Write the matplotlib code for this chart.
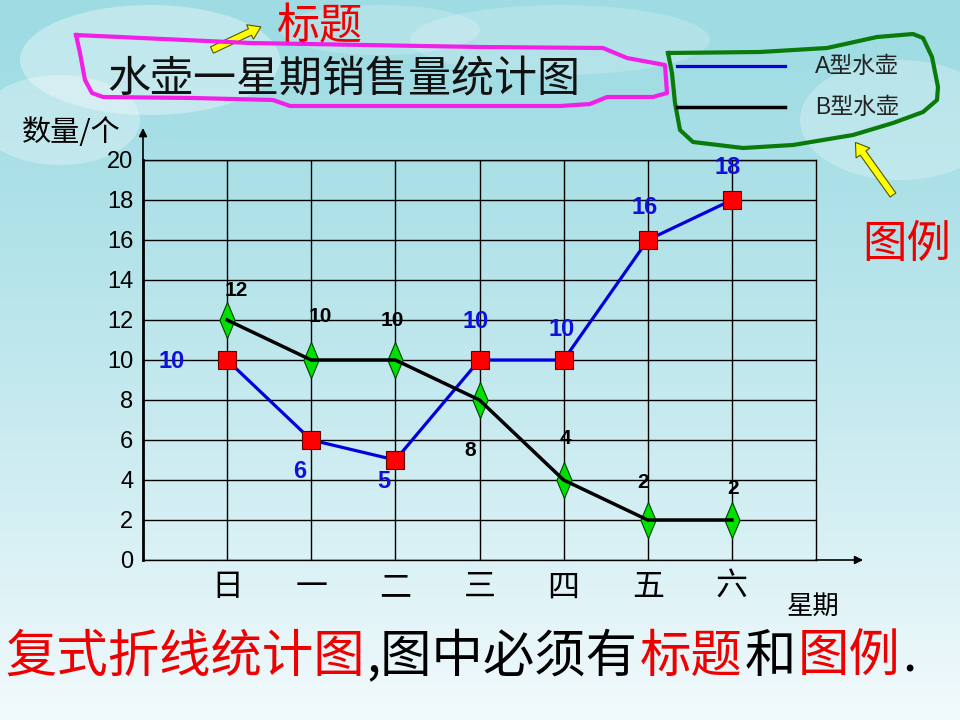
import matplotlib
matplotlib.use("Agg")
import matplotlib.pyplot as plt
import numpy as np
from matplotlib.patches import Ellipse, FancyArrow

plt.rcParams["font.family"] = ["Liberation Sans", "Noto Sans CJK SC", "DejaVu Sans"]
CJK = ["Noto Sans CJK SC", "DejaVu Sans"]

# data
days = ["日", "一", "二", "三", "四", "五", "六"]
kettle_a = [10, 6, 5, 10, 10, 16, 18]
kettle_b = [12, 10, 10, 8, 4, 2, 2]
y_ticks = [0, 2, 4, 6, 8, 10, 12, 14, 16, 18, 20]
series_names = ["A型水壶", "B型水壶"]

# label offsets in pixels (style)
a_offsets = [(-55, -2), (-12, -32), (-12, -22), (-4, 38), (-2, 30), (-3, 32), (-4, 32)]
b_offsets = [(9, 30), (9, 43), (-3, 40), (-9, -50), (2, 42), (-5, 37), (1, 32)]

W, H = 960, 720
fig = plt.figure(figsize=(9.6, 7.2), dpi=100)

# sky background
bg = fig.add_axes([0, 0, 1, 1], zorder=-5)
grad = np.linspace(0, 1, 256).reshape(-1, 1)
top = np.array([0.62, 0.86, 0.89])
bot = np.array([0.95, 0.98, 0.99])
img = top + (bot - top) * grad[..., None] ** 1.3
bg.imshow(img, aspect="auto", extent=[0, W, H, 0])
for cx, cy, w, h, a in [(150, 60, 260, 110, 0.35), (60, 120, 160, 90, 0.3),
                        (560, 40, 300, 70, 0.2), (900, 120, 200, 120, 0.25),
                        (380, 30, 200, 50, 0.2)]:
    bg.add_patch(Ellipse((cx, cy), w, h, color="white", alpha=a, lw=0))
bg.set_xlim(0, W)
bg.set_ylim(H, 0)
bg.axis("off")

# main chart
ax = fig.add_axes([143 / W, 160 / H, 673 / W, 400 / H])
ax.patch.set_alpha(0)
x = np.arange(len(days))

line_a, = ax.plot(x, kettle_a, color="#0000dd", lw=2.3, zorder=3)
ax.plot(x, kettle_a, ls="none", marker="s", ms=13, mfc="#ff0000",
        mec="#600000", mew=0.8, zorder=4)
diamond = [(0, 1), (0.42, 0), (0, -1), (-0.42, 0), (0, 1)]
ax.plot(x, kettle_b, ls="none", marker=diamond, ms=26, mfc="#00e000",
        mec="#004000", mew=0.8, zorder=5)
line_b, = ax.plot(x, kettle_b, color="black", lw=2.5, zorder=6)

for xi, v, off in zip(x, kettle_a, a_offsets):
    ax.annotate(str(v), (xi, v), xytext=off, textcoords="offset pixels",
                ha="center", va="center", fontsize=17, fontweight="bold",
                color="#1010dd", zorder=7)
for xi, v, off in zip(x, kettle_b, b_offsets):
    ax.annotate(str(v), (xi, v), xytext=off, textcoords="offset pixels",
                ha="center", va="center", fontsize=15, fontweight="bold",
                color="black", zorder=7)

ax.set_xlim(-1, 7)
ax.set_ylim(0, 20)
ax.set_yticks(y_ticks)
ax.set_xticks(x)
ax.set_xticklabels(days, family=CJK, fontsize=23)
ax.tick_params(axis="x", length=0, pad=8)
ax.tick_params(axis="y", length=0, pad=7, labelsize=17)
ax.grid(True, color="black", lw=1)
for s in ["top", "right", "bottom"]:
    ax.spines[s].set_linewidth(1)
ax.spines["left"].set_linewidth(2)

# axis arrows
ax.annotate("", xy=(0, 1.08), xytext=(0, 1.0), xycoords="axes fraction",
            arrowprops=dict(arrowstyle="-|>", color="black", lw=1.2,
                            mutation_scale=12, shrinkA=0, shrinkB=0))
ax.annotate("", xy=(1.07, 0), xytext=(1.0, 0), xycoords="axes fraction",
            arrowprops=dict(arrowstyle="-|>", color="black", lw=1.2,
                            mutation_scale=12, shrinkA=0, shrinkB=0))

fig.text(22 / W, 1 - 133 / H, "数量/个", family=CJK, fontsize=21, va="center")
fig.text(787 / W, 1 - 606 / H, "星期", family=CJK, fontsize=19, va="center")

# title and hand-drawn annotations
fig.text(107 / W, 1 - 80 / H, "水壶一星期销售量统计图", family=CJK,
         fontsize=31, va="center", color="#111111")
fig.text(277 / W, 1 - 27 / H, "标题", family=CJK, fontsize=31,
         va="center", color="#ee0000")
fig.text(862 / W, 1 - 244 / H, "图例", family=CJK, fontsize=32,
         va="center", color="#ee0000")

over = fig.add_axes([0, 0, 1, 1], zorder=10)
over.set_xlim(0, W)
over.set_ylim(H, 0)
over.axis("off")
pink_x = [76, 250, 480, 603, 627, 665, 667, 653, 607, 590, 560, 480, 290, 273, 193, 103, 92, 85, 80, 76]
pink_y = [35, 43, 47, 48, 58, 65, 93, 97, 97, 104, 106, 106, 106, 100, 98, 97, 93, 80, 53, 35]
over.plot(pink_x, pink_y, color="#f020e8", lw=3)
green_x = [668, 760, 827, 877, 913, 923, 932, 938, 937, 923, 893, 853, 793, 743, 693, 680, 675, 672, 668]
green_y = [53, 52, 48, 37, 34, 38, 57, 87, 100, 112, 123, 135, 145, 148, 142, 130, 103, 73, 53]
over.plot(green_x, green_y, color="#0a7a0a", lw=3)
over.add_patch(FancyArrow(212, 50, 38, -18, width=7, head_width=16,
                          head_length=12, fc="#ffff00", ec="#555500", lw=0.8))
over.add_patch(FancyArrow(893, 195, -30, -42, width=7, head_width=17,
                          head_length=13, fc="#ffff00", ec="#555500", lw=0.8))

# legend drawn as in the slide
for ln, name, ly in zip([line_a, line_b], series_names, [66, 107]):
    over.plot([677, 785], [ly, ly], color=ln.get_color(), lw=ln.get_linewidth())
    over.text(815, ly, name, fontsize=16.5, va="center", color="#222222")

# bottom sentence with mixed colours
pieces = ["复式折线统计图", ",图中必须有", "标题", "和", "图例", "."]
colors = ["#ee0000", "black", "#ee0000", "black", "#ee0000", "black"]
renderer = fig.canvas.get_renderer()
xpos = 5
for piece, c in zip(pieces, colors):
    t = fig.text(xpos / W, 1 - 657 / H, piece, family=CJK, fontsize=37,
                 va="center", color=c)
    xpos = t.get_window_extent(renderer).x1 + 2

fig.savefig("out.png", dpi=100)
